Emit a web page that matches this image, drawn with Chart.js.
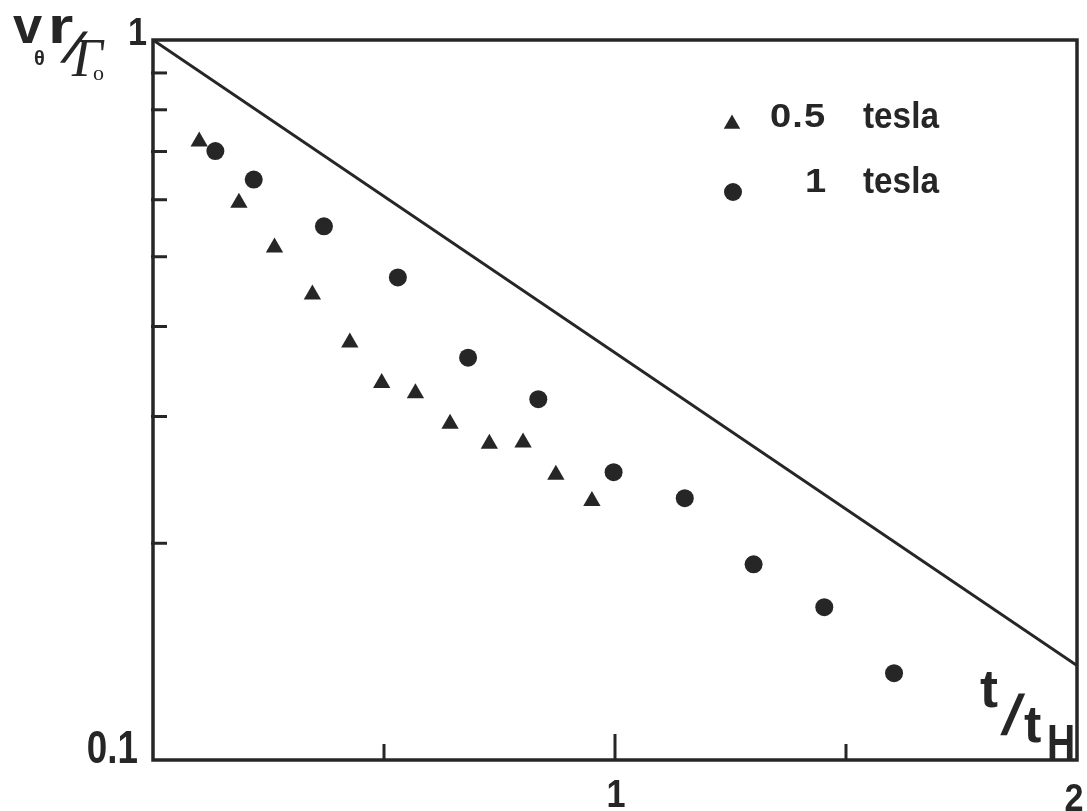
<!DOCTYPE html>
<html>
<head>
<meta charset="utf-8">
<script src="https://cdn.jsdelivr.net/npm/chart.js@4.4.0/dist/chart.umd.min.js"></script>
<style>
  html, body { margin: 0; padding: 0; background: #fff; }
  #wrap { width: 1087px; height: 811px; }
</style>
</head>
<body>
<div id="wrap"><canvas id="decay-chart"></canvas></div>
<script>
// t / t_H and v_theta r / Gamma_0 for the two field strengths
const halfTeslaT = [0.100, 0.186, 0.263, 0.345, 0.426, 0.495, 0.568, 0.643, 0.728, 0.801, 0.872, 0.950];
const halfTeslaV = [0.723, 0.594, 0.515, 0.443, 0.380, 0.334, 0.323, 0.293, 0.275, 0.276, 0.249, 0.229];
const oneTeslaT = [0.135, 0.218, 0.370, 0.530, 0.682, 0.834, 0.997, 1.151, 1.300, 1.453, 1.604];
const oneTeslaV = [0.701, 0.640, 0.551, 0.468, 0.362, 0.317, 0.251, 0.231, 0.187, 0.163, 0.132];
// exp(-t/t_H) is a straight line on the log axis, so two ends are enough
const decayT = [0, 2];
const decayV = [1, 0.1353];

const yMinorTicks = [0.2, 0.3, 0.4, 0.5, 0.6, 0.7, 0.8, 0.9];
const xMinorTicks = [0.5, 1, 1.5];
const yTickLabels = ['1', '0.1'];
const xTickLabels = ['1', '2'];
const seriesNames = ['0.5', '1'];

const ink = '#262626';
const sans = '"Liberation Sans", Arial, sans-serif';
const serif = '"Liberation Serif", "DejaVu Serif", serif';

const toPoints = (xs, ys) => xs.map((x, i) => ({ x: x, y: ys[i] }));

// fillText squeezed horizontally (sx) and optionally slanted (skew)
function text(ctx, str, x, y, font, sx = 1, skew = 0) {
  ctx.save();
  ctx.translate(x, y);
  ctx.transform(sx, 0, skew, 1, 0, 0);
  ctx.font = font;
  ctx.fillText(str, 0, 0);
  ctx.restore();
}

// frame, inward ticks, labels and the little legend
const decorations = {
  id: 'decorations',
  afterDatasetsDraw(chart) {
    const { ctx, chartArea: a, scales: { x, y } } = chart;
    ctx.save();
    ctx.strokeStyle = ink;
    ctx.fillStyle = ink;
    ctx.lineWidth = 3.5;
    ctx.strokeRect(a.left, a.top, a.right - a.left, a.bottom - a.top);

    ctx.lineWidth = 3;
    yMinorTicks.forEach(v => {
      const py = y.getPixelForValue(v);
      ctx.beginPath();
      ctx.moveTo(a.left - 2, py);
      ctx.lineTo(a.left + 14, py);
      ctx.stroke();
    });
    xMinorTicks.forEach(v => {
      const px = x.getPixelForValue(v);
      const len = Number.isInteger(v) ? 26 : 16;
      ctx.beginPath();
      ctx.moveTo(px, a.bottom);
      ctx.lineTo(px, a.bottom - len);
      ctx.stroke();
    });

    // tick labels
    ctx.textBaseline = 'alphabetic';
    ctx.textAlign = 'right';
    text(ctx, yTickLabels[0], a.left - 6, y.getPixelForValue(1) + 5, 'bold 38px ' + sans, 0.9);
    text(ctx, yTickLabels[1], a.left - 15, y.getPixelForValue(0.1) + 3, 'bold 46px ' + sans, 0.8);
    ctx.textAlign = 'center';
    text(ctx, xTickLabels[0], x.getPixelForValue(1) + 1, a.bottom + 47, 'bold 38px ' + sans, 0.9);
    text(ctx, xTickLabels[1], x.getPixelForValue(2) - 3, a.bottom + 51, 'bold 38px ' + sans, 0.9);

    // y title: v_theta r / Gamma_o
    ctx.textAlign = 'left';
    text(ctx, 'v', 13, 43, 'bold 50px ' + sans, 1.05);
    text(ctx, 'r', 48, 43, 'bold 50px ' + sans, 1.3);
    text(ctx, 'θ', 34, 65, 'bold 20px ' + sans);
    text(ctx, '/', 60, 62, 'bold 42px ' + sans, 1, -0.55);
    text(ctx, 'Γ', 72, 76, 'italic 54px ' + serif);
    text(ctx, 'o', 93, 80, '22px ' + serif);

    // x title: t / t_H
    text(ctx, 't', 980, 707, 'bold 54px ' + sans);
    text(ctx, '/', 1000, 734, 'bold 56px ' + sans, 1, -0.25);
    text(ctx, 't', 1024, 742, 'bold 52px ' + sans);
    text(ctx, 'H', 1047, 760, 'bold 50px ' + sans, 0.78);

    // legend
    const h = Chart.helpers;
    h.drawPoint(ctx, { pointStyle: 'triangle', radius: 9.5, borderWidth: 0 }, 732, 124);
    h.drawPoint(ctx, { pointStyle: 'circle', radius: 9, borderWidth: 0 }, 733, 192);
    ctx.letterSpacing = '1px';
    text(ctx, seriesNames[0], 770, 127, 'bold 34px ' + sans, 1.12);
    text(ctx, seriesNames[1], 805, 192, 'bold 34px ' + sans, 1.12);
    ctx.letterSpacing = '0px';
    text(ctx, 'tesla', 863, 128, 'bold 37px ' + sans, 0.9);
    text(ctx, 'tesla', 863, 193, 'bold 37px ' + sans, 0.9);
    ctx.restore();
  }
};

new Chart(document.getElementById('decay-chart'), {
  type: 'scatter',
  data: {
    datasets: [
      {
        label: 'exp(-t/tH)',
        data: toPoints(decayT, decayV),
        showLine: true,
        borderColor: ink,
        borderWidth: 3,
        pointRadius: 0
      },
      {
        label: '0.5 tesla',
        data: toPoints(halfTeslaT, halfTeslaV),
        pointStyle: 'triangle',
        pointRadius: 10,
        backgroundColor: ink,
        borderWidth: 0
      },
      {
        label: '1 tesla',
        data: toPoints(oneTeslaT, oneTeslaV),
        pointStyle: 'circle',
        pointRadius: 9,
        backgroundColor: ink,
        borderWidth: 0
      }
    ]
  },
  options: {
    responsive: true,
    maintainAspectRatio: false,
    animation: false,
    layout: { padding: { left: 153, right: 10, top: 40, bottom: 51 } },
    plugins: { legend: { display: false }, tooltip: { enabled: false } },
    scales: {
      x: { type: 'linear', min: 0, max: 2, display: false },
      y: { type: 'logarithmic', min: 0.1, max: 1, display: false }
    }
  },
  plugins: [decorations]
});
</script>
</body>
</html>
